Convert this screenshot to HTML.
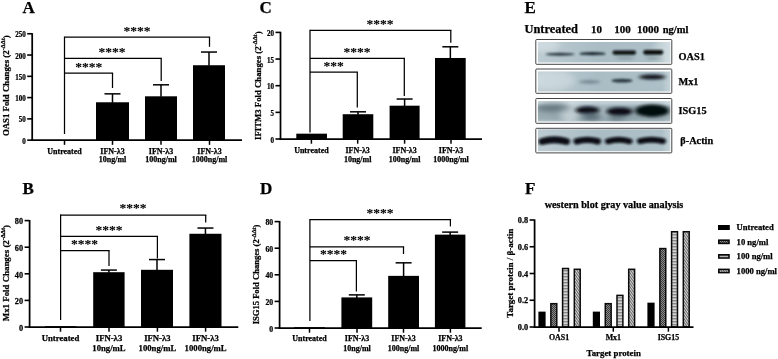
<!DOCTYPE html>
<html><head><meta charset="utf-8"><title>Figure</title>
<style>html,body{margin:0;padding:0;background:#fff;overflow:hidden}body{position:relative;width:778px;height:359px}svg{display:block}</style></head><body>
<svg width="778" height="359" viewBox="0 0 778 359" font-family="Liberation Serif, serif" font-weight="bold" fill="#000" stroke="#000" stroke-width="0" style="filter:grayscale(1)">
<rect width="778" height="359" fill="#fff"/>
<defs>
<pattern id="p10" width="2" height="2" patternUnits="userSpaceOnUse"><rect width="2" height="2" fill="#8a8a8a"/><rect width="1" height="1" fill="#3a3a3a"/><rect x="1" y="1" width="1" height="1" fill="#3a3a3a"/></pattern>
<pattern id="p100" width="8" height="3" patternUnits="userSpaceOnUse"><rect width="8" height="3" fill="#d4d4d4"/><rect width="8" height="1.4" fill="#8a8a8a"/></pattern>
<pattern id="p1000" width="2" height="2" patternUnits="userSpaceOnUse" patternTransform="rotate(55)"><rect width="2" height="2" fill="#d8d8d8"/><rect width="2" height="0.9" fill="#5a5a5a"/></pattern>
</defs>
<rect x="96.00" y="102.27" width="33.00" height="37.88" fill="#000" />
<line x1="112.5" y1="102.7716" x2="112.5" y2="93.84472000000001" stroke="#000" stroke-width="1.5" />
<line x1="104.5" y1="93.84472000000001" x2="120.5" y2="93.84472000000001" stroke="#000" stroke-width="1.5" />
<rect x="145.00" y="96.31" width="32.00" height="43.84" fill="#000" />
<line x1="161.0" y1="96.8132" x2="161.0" y2="84.82199999999999" stroke="#000" stroke-width="1.5" />
<line x1="153.0" y1="84.82199999999999" x2="169.0" y2="84.82199999999999" stroke="#000" stroke-width="1.5" />
<rect x="193.00" y="65.24" width="32.00" height="74.91" fill="#000" />
<line x1="209.0" y1="65.7444" x2="209.0" y2="52.050799999999995" stroke="#000" stroke-width="1.5" />
<line x1="201.0" y1="52.050799999999995" x2="217.0" y2="52.050799999999995" stroke="#000" stroke-width="1.5" />
<line x1="32.2" y1="33.15" x2="32.2" y2="141.025" stroke="#000" stroke-width="1.75" />
<line x1="31.325000000000003" y1="140.15" x2="242" y2="140.15" stroke="#000" stroke-width="1.75" />
<line x1="27.200000000000003" y1="140.15" x2="32.2" y2="140.15" stroke="#000" stroke-width="1.6" />
<text transform="translate(25.700000000000003,143.72) scale(0.88,1)" font-size="8" text-anchor="end" stroke-width="0.25">0</text>
<line x1="27.200000000000003" y1="118.87" x2="32.2" y2="118.87" stroke="#000" stroke-width="1.6" />
<text transform="translate(25.700000000000003,122.44) scale(0.88,1)" font-size="8" text-anchor="end" stroke-width="0.25">50</text>
<line x1="27.200000000000003" y1="97.59" x2="32.2" y2="97.59" stroke="#000" stroke-width="1.6" />
<text transform="translate(25.700000000000003,101.16) scale(0.88,1)" font-size="8" text-anchor="end" stroke-width="0.25">100</text>
<line x1="27.200000000000003" y1="76.31" x2="32.2" y2="76.31" stroke="#000" stroke-width="1.6" />
<text transform="translate(25.700000000000003,79.88) scale(0.88,1)" font-size="8" text-anchor="end" stroke-width="0.25">150</text>
<line x1="27.200000000000003" y1="55.03" x2="32.2" y2="55.03" stroke="#000" stroke-width="1.6" />
<text transform="translate(25.700000000000003,58.60) scale(0.88,1)" font-size="8" text-anchor="end" stroke-width="0.25">200</text>
<line x1="27.200000000000003" y1="33.75" x2="32.2" y2="33.75" stroke="#000" stroke-width="1.6" />
<text transform="translate(25.700000000000003,37.32) scale(0.88,1)" font-size="8" text-anchor="end" stroke-width="0.25">250</text>
<line x1="64.5" y1="140.15" x2="64.5" y2="144.85" stroke="#000" stroke-width="1.5" />
<text x="64.5" y="153.7" font-size="8" text-anchor="middle" stroke-width="0.25" >Untreated</text>
<line x1="112.5" y1="140.15" x2="112.5" y2="144.85" stroke="#000" stroke-width="1.5" />
<text x="112.5" y="153.7" font-size="8" text-anchor="middle" stroke-width="0.25" >IFN-λ3</text>
<text x="112.5" y="162.3" font-size="8" text-anchor="middle" stroke-width="0.25" >10ng/ml</text>
<line x1="161" y1="140.15" x2="161" y2="144.85" stroke="#000" stroke-width="1.5" />
<text x="161" y="153.7" font-size="8" text-anchor="middle" stroke-width="0.25" >IFN-λ3</text>
<text x="161" y="162.3" font-size="8" text-anchor="middle" stroke-width="0.25" >100ng/ml</text>
<line x1="209.5" y1="140.15" x2="209.5" y2="144.85" stroke="#000" stroke-width="1.5" />
<text x="209.5" y="153.7" font-size="8" text-anchor="middle" stroke-width="0.25" >IFN-λ3</text>
<text x="209.5" y="162.3" font-size="8" text-anchor="middle" stroke-width="0.25" >1000ng/ml</text>
<line x1="64.5" y1="36.575" x2="64.5" y2="134" stroke="#000" stroke-width="1.25" />
<line x1="64.5" y1="37.2" x2="210.125" y2="37.2" stroke="#000" stroke-width="1.25" />
<line x1="209.5" y1="37.2" x2="209.5" y2="46.8" stroke="#000" stroke-width="1.25" />
<text x="137" y="35.1" font-size="13.5" text-anchor="middle" stroke-width="0.08" >****</text>
<line x1="64.5" y1="58.4" x2="161.825" y2="58.4" stroke="#000" stroke-width="1.25" />
<line x1="161.2" y1="58.4" x2="161.2" y2="81" stroke="#000" stroke-width="1.25" />
<text x="112" y="56.3" font-size="13.5" text-anchor="middle" stroke-width="0.08" >****</text>
<line x1="64.5" y1="73" x2="113.125" y2="73" stroke="#000" stroke-width="1.25" />
<line x1="112.5" y1="73" x2="112.5" y2="88" stroke="#000" stroke-width="1.25" />
<text x="88.7" y="70.9" font-size="13.5" text-anchor="middle" stroke-width="0.08" >****</text>
<text transform="translate(9.0,85.7) rotate(-90)" font-size="8.8" text-anchor="middle" stroke-width="0.25">OAS1 Fold Changes (2<tspan font-size="6.3" dy="-3.7">-ΔΔt</tspan><tspan dy="3.7">)</tspan></text>
<text x="22.5" y="13.3" font-size="17" text-anchor="start" stroke-width="0.25" >A</text>
<rect x="296.30" y="133.67" width="30.70" height="5.33" fill="#000" />
<rect x="342.70" y="114.22" width="30.60" height="24.78" fill="#000" />
<line x1="358.0" y1="114.71549999999999" x2="358.0" y2="111.817" stroke="#000" stroke-width="1.5" />
<line x1="350.0" y1="111.817" x2="366.0" y2="111.817" stroke="#000" stroke-width="1.5" />
<rect x="389.60" y="105.69" width="30.00" height="33.31" fill="#000" />
<line x1="404.6" y1="106.1875" x2="404.6" y2="99.025" stroke="#000" stroke-width="1.5" />
<line x1="396.6" y1="99.025" x2="412.6" y2="99.025" stroke="#000" stroke-width="1.5" />
<rect x="435.00" y="57.98" width="30.70" height="81.02" fill="#000" />
<line x1="450.35" y1="58.48400000000001" x2="450.35" y2="46.79100000000001" stroke="#000" stroke-width="1.5" />
<line x1="442.35" y1="46.79100000000001" x2="458.35" y2="46.79100000000001" stroke="#000" stroke-width="1.5" />
<line x1="280.5" y1="31.799999999999997" x2="280.5" y2="139.875" stroke="#000" stroke-width="1.75" />
<line x1="279.625" y1="139" x2="482" y2="139" stroke="#000" stroke-width="1.75" />
<line x1="275.5" y1="139.0" x2="280.5" y2="139.0" stroke="#000" stroke-width="1.6" />
<text transform="translate(274.0,142.57) scale(0.88,1)" font-size="8" text-anchor="end" stroke-width="0.25">0</text>
<line x1="275.5" y1="112.35" x2="280.5" y2="112.35" stroke="#000" stroke-width="1.6" />
<text transform="translate(274.0,115.92) scale(0.88,1)" font-size="8" text-anchor="end" stroke-width="0.25">5</text>
<line x1="275.5" y1="85.7" x2="280.5" y2="85.7" stroke="#000" stroke-width="1.6" />
<text transform="translate(274.0,89.27) scale(0.88,1)" font-size="8" text-anchor="end" stroke-width="0.25">10</text>
<line x1="275.5" y1="59.05" x2="280.5" y2="59.05" stroke="#000" stroke-width="1.6" />
<text transform="translate(274.0,62.62) scale(0.88,1)" font-size="8" text-anchor="end" stroke-width="0.25">15</text>
<line x1="275.5" y1="32.400000000000006" x2="280.5" y2="32.400000000000006" stroke="#000" stroke-width="1.6" />
<text transform="translate(274.0,35.97) scale(0.88,1)" font-size="8" text-anchor="end" stroke-width="0.25">20</text>
<line x1="311.4" y1="139" x2="311.4" y2="143.7" stroke="#000" stroke-width="1.5" />
<text x="311.4" y="152.6" font-size="8" text-anchor="middle" stroke-width="0.25" >Untreated</text>
<line x1="357.7" y1="139" x2="357.7" y2="143.7" stroke="#000" stroke-width="1.5" />
<text x="357.7" y="152.6" font-size="8" text-anchor="middle" stroke-width="0.25" >IFN-λ3</text>
<text x="357.7" y="161.5" font-size="8" text-anchor="middle" stroke-width="0.25" >10ng/ml</text>
<line x1="404.6" y1="139" x2="404.6" y2="143.7" stroke="#000" stroke-width="1.5" />
<text x="404.6" y="152.6" font-size="8" text-anchor="middle" stroke-width="0.25" >IFN-λ3</text>
<text x="404.6" y="161.5" font-size="8" text-anchor="middle" stroke-width="0.25" >100ng/ml</text>
<line x1="451" y1="139" x2="451" y2="143.7" stroke="#000" stroke-width="1.5" />
<text x="451" y="152.6" font-size="8" text-anchor="middle" stroke-width="0.25" >IFN-λ3</text>
<text x="451" y="161.5" font-size="8" text-anchor="middle" stroke-width="0.25" >1000ng/ml</text>
<line x1="310" y1="29.775" x2="310" y2="132.6" stroke="#000" stroke-width="1.25" />
<line x1="310" y1="30.4" x2="451.425" y2="30.4" stroke="#000" stroke-width="1.25" />
<line x1="450.8" y1="30.4" x2="450.8" y2="42.8" stroke="#000" stroke-width="1.25" />
<text x="380" y="28.299999999999997" font-size="13.5" text-anchor="middle" stroke-width="0.08" >****</text>
<line x1="310" y1="58.3" x2="404.925" y2="58.3" stroke="#000" stroke-width="1.25" />
<line x1="404.3" y1="58.3" x2="404.3" y2="96" stroke="#000" stroke-width="1.25" />
<text x="357" y="56.199999999999996" font-size="13.5" text-anchor="middle" stroke-width="0.08" >****</text>
<line x1="310" y1="72.2" x2="357.925" y2="72.2" stroke="#000" stroke-width="1.25" />
<line x1="357.3" y1="72.2" x2="357.3" y2="107.4" stroke="#000" stroke-width="1.25" />
<text x="333.5" y="70.10000000000001" font-size="13.5" text-anchor="middle" stroke-width="0.08" >***</text>
<text transform="translate(260.9,85.7) rotate(-90)" font-size="8.76" text-anchor="middle" stroke-width="0.25">IFITM3 Fold Changes (2<tspan font-size="6.3" dy="-3.7">-ΔΔt</tspan><tspan dy="3.7">)</tspan></text>
<text x="259.5" y="13.3" font-size="17" text-anchor="start" stroke-width="0.25" >C</text>
<rect x="45.00" y="326.20" width="31.50" height="0.80" fill="#000" />
<rect x="93.20" y="272.20" width="31.40" height="54.80" fill="#000" />
<line x1="108.9" y1="272.704" x2="108.9" y2="270.076" stroke="#000" stroke-width="1.5" />
<line x1="100.9" y1="270.076" x2="116.9" y2="270.076" stroke="#000" stroke-width="1.5" />
<rect x="141.00" y="269.81" width="32.00" height="57.19" fill="#000" />
<line x1="157.0" y1="270.31" x2="157.0" y2="259.569" stroke="#000" stroke-width="1.5" />
<line x1="149.0" y1="259.569" x2="165.0" y2="259.569" stroke="#000" stroke-width="1.5" />
<rect x="189.40" y="233.77" width="32.10" height="93.23" fill="#000" />
<line x1="205.45" y1="234.267" x2="205.45" y2="228.048" stroke="#000" stroke-width="1.5" />
<line x1="197.45" y1="228.048" x2="213.45" y2="228.048" stroke="#000" stroke-width="1.5" />
<line x1="29.6" y1="220.0" x2="29.6" y2="327.875" stroke="#000" stroke-width="1.75" />
<line x1="28.725" y1="327" x2="238.3" y2="327" stroke="#000" stroke-width="1.75" />
<line x1="24.6" y1="327.0" x2="29.6" y2="327.0" stroke="#000" stroke-width="1.6" />
<text transform="translate(23.1,330.81) scale(0.95,1)" font-size="8.7" text-anchor="end" stroke-width="0.25">0</text>
<line x1="24.6" y1="300.4" x2="29.6" y2="300.4" stroke="#000" stroke-width="1.6" />
<text transform="translate(23.1,304.21) scale(0.95,1)" font-size="8.7" text-anchor="end" stroke-width="0.25">20</text>
<line x1="24.6" y1="273.8" x2="29.6" y2="273.8" stroke="#000" stroke-width="1.6" />
<text transform="translate(23.1,277.61) scale(0.95,1)" font-size="8.7" text-anchor="end" stroke-width="0.25">40</text>
<line x1="24.6" y1="247.2" x2="29.6" y2="247.2" stroke="#000" stroke-width="1.6" />
<text transform="translate(23.1,251.01) scale(0.95,1)" font-size="8.7" text-anchor="end" stroke-width="0.25">60</text>
<line x1="24.6" y1="220.6" x2="29.6" y2="220.6" stroke="#000" stroke-width="1.6" />
<text transform="translate(23.1,224.41) scale(0.95,1)" font-size="8.7" text-anchor="end" stroke-width="0.25">80</text>
<line x1="60.5" y1="327" x2="60.5" y2="331.7" stroke="#000" stroke-width="1.5" />
<text x="60.5" y="341" font-size="8.7" text-anchor="middle" stroke-width="0.25" >Untreated</text>
<line x1="109" y1="327" x2="109" y2="331.7" stroke="#000" stroke-width="1.5" />
<text x="109" y="341" font-size="8.7" text-anchor="middle" stroke-width="0.25" >IFN-λ3</text>
<text x="109" y="351.4" font-size="8.7" text-anchor="middle" stroke-width="0.25" >10ng/mL</text>
<line x1="157.4" y1="327" x2="157.4" y2="331.7" stroke="#000" stroke-width="1.5" />
<text x="157.4" y="341" font-size="8.7" text-anchor="middle" stroke-width="0.25" >IFN-λ3</text>
<text x="157.4" y="351.4" font-size="8.7" text-anchor="middle" stroke-width="0.25" >100ng/mL</text>
<line x1="205.6" y1="327" x2="205.6" y2="331.7" stroke="#000" stroke-width="1.5" />
<text x="205.6" y="341" font-size="8.7" text-anchor="middle" stroke-width="0.25" >IFN-λ3</text>
<text x="205.6" y="351.4" font-size="8.7" text-anchor="middle" stroke-width="0.25" >1000ng/mL</text>
<line x1="60.6" y1="214.375" x2="60.6" y2="320" stroke="#000" stroke-width="1.25" />
<line x1="60.6" y1="215.0" x2="206.325" y2="215.0" stroke="#000" stroke-width="1.25" />
<line x1="205.7" y1="215.0" x2="205.7" y2="222.6" stroke="#000" stroke-width="1.25" />
<text x="133" y="212.4" font-size="13.5" text-anchor="middle" stroke-width="0.08" >****</text>
<line x1="60.6" y1="236.4" x2="158.025" y2="236.4" stroke="#000" stroke-width="1.25" />
<line x1="157.4" y1="236.4" x2="157.4" y2="258.5" stroke="#000" stroke-width="1.25" />
<text x="109" y="233.8" font-size="13.5" text-anchor="middle" stroke-width="0.08" >****</text>
<line x1="60.6" y1="250.7" x2="109.625" y2="250.7" stroke="#000" stroke-width="1.25" />
<line x1="109" y1="250.7" x2="109" y2="266" stroke="#000" stroke-width="1.25" />
<text x="84.5" y="248.1" font-size="13.5" text-anchor="middle" stroke-width="0.08" >****</text>
<text transform="translate(9.1,273.1) rotate(-90)" font-size="8.87" text-anchor="middle" stroke-width="0.25">Mx1 Fold Changes (2<tspan font-size="6.4" dy="-3.7">-ΔΔt</tspan><tspan dy="3.7">)</tspan></text>
<text x="22.5" y="193.5" font-size="17" text-anchor="start" stroke-width="0.25" >B</text>
<rect x="294.00" y="327.20" width="31.00" height="0.80" fill="#000" />
<rect x="341.40" y="297.41" width="30.80" height="30.59" fill="#000" />
<line x1="356.79999999999995" y1="297.90999999999997" x2="356.79999999999995" y2="294.883" stroke="#000" stroke-width="1.5" />
<line x1="348.79999999999995" y1="294.883" x2="364.79999999999995" y2="294.883" stroke="#000" stroke-width="1.5" />
<rect x="388.20" y="275.86" width="30.80" height="52.14" fill="#000" />
<line x1="403.6" y1="276.364" x2="403.6" y2="262.83" stroke="#000" stroke-width="1.5" />
<line x1="395.6" y1="262.83" x2="411.6" y2="262.83" stroke="#000" stroke-width="1.5" />
<rect x="434.90" y="234.63" width="30.50" height="93.37" fill="#000" />
<line x1="450.15" y1="235.134" x2="450.15" y2="232.107" stroke="#000" stroke-width="1.5" />
<line x1="442.15" y1="232.107" x2="458.15" y2="232.107" stroke="#000" stroke-width="1.5" />
<line x1="279.6" y1="221.0" x2="279.6" y2="328.875" stroke="#000" stroke-width="1.75" />
<line x1="278.725" y1="328" x2="481.7" y2="328" stroke="#000" stroke-width="1.75" />
<line x1="274.6" y1="328.0" x2="279.6" y2="328.0" stroke="#000" stroke-width="1.6" />
<text transform="translate(273.1,331.67) scale(0.93,1)" font-size="8.3" text-anchor="end" stroke-width="0.25">0</text>
<line x1="274.6" y1="301.4" x2="279.6" y2="301.4" stroke="#000" stroke-width="1.6" />
<text transform="translate(273.1,305.07) scale(0.93,1)" font-size="8.3" text-anchor="end" stroke-width="0.25">20</text>
<line x1="274.6" y1="274.8" x2="279.6" y2="274.8" stroke="#000" stroke-width="1.6" />
<text transform="translate(273.1,278.47) scale(0.93,1)" font-size="8.3" text-anchor="end" stroke-width="0.25">40</text>
<line x1="274.6" y1="248.2" x2="279.6" y2="248.2" stroke="#000" stroke-width="1.6" />
<text transform="translate(273.1,251.87) scale(0.93,1)" font-size="8.3" text-anchor="end" stroke-width="0.25">60</text>
<line x1="274.6" y1="221.6" x2="279.6" y2="221.6" stroke="#000" stroke-width="1.6" />
<text transform="translate(273.1,225.27) scale(0.93,1)" font-size="8.3" text-anchor="end" stroke-width="0.25">80</text>
<line x1="309.5" y1="328" x2="309.5" y2="332.7" stroke="#000" stroke-width="1.5" />
<text x="309.5" y="340.7" font-size="8" text-anchor="middle" stroke-width="0.25" >Untreated</text>
<line x1="357" y1="328" x2="357" y2="332.7" stroke="#000" stroke-width="1.5" />
<text x="357" y="340.7" font-size="8" text-anchor="middle" stroke-width="0.25" >IFN-λ3</text>
<text x="357" y="350.8" font-size="8" text-anchor="middle" stroke-width="0.25" >10ng/ml</text>
<line x1="403.5" y1="328" x2="403.5" y2="332.7" stroke="#000" stroke-width="1.5" />
<text x="403.5" y="340.7" font-size="8" text-anchor="middle" stroke-width="0.25" >IFN-λ3</text>
<text x="403.5" y="350.8" font-size="8" text-anchor="middle" stroke-width="0.25" >100ng/ml</text>
<line x1="450.4" y1="328" x2="450.4" y2="332.7" stroke="#000" stroke-width="1.5" />
<text x="450.4" y="340.7" font-size="8" text-anchor="middle" stroke-width="0.25" >IFN-λ3</text>
<text x="450.4" y="350.8" font-size="8" text-anchor="middle" stroke-width="0.25" >1000ng/ml</text>
<line x1="309.9" y1="218.975" x2="309.9" y2="321" stroke="#000" stroke-width="1.25" />
<line x1="309.9" y1="219.6" x2="451.025" y2="219.6" stroke="#000" stroke-width="1.25" />
<line x1="450.4" y1="219.6" x2="450.4" y2="226.4" stroke="#000" stroke-width="1.25" />
<text x="380" y="217.0" font-size="13.5" text-anchor="middle" stroke-width="0.08" >****</text>
<line x1="309.9" y1="246.9" x2="404.125" y2="246.9" stroke="#000" stroke-width="1.25" />
<line x1="403.5" y1="246.9" x2="403.5" y2="254" stroke="#000" stroke-width="1.25" />
<text x="357" y="244.3" font-size="13.5" text-anchor="middle" stroke-width="0.08" >****</text>
<line x1="309.9" y1="260.7" x2="357.025" y2="260.7" stroke="#000" stroke-width="1.25" />
<line x1="356.4" y1="260.7" x2="356.4" y2="291.5" stroke="#000" stroke-width="1.25" />
<text x="333.4" y="258.09999999999997" font-size="13.5" text-anchor="middle" stroke-width="0.08" >****</text>
<text transform="translate(259.2,274.45) rotate(-90)" font-size="8.58" text-anchor="middle" stroke-width="0.25">ISG15 Fold Changes (2<tspan font-size="6.2" dy="-3.6">-ΔΔt</tspan><tspan dy="3.6">)</tspan></text>
<text x="260" y="193.5" font-size="17" text-anchor="start" stroke-width="0.25" >D</text>
<text x="524.5" y="13.3" font-size="17" text-anchor="start" stroke-width="0.25" >E</text>
<text x="524.5" y="33" font-size="12.4" text-anchor="start" stroke-width="0.25" >Untreated</text>
<text x="596.5" y="33" font-size="11" text-anchor="middle" stroke-width="0.25" >10</text>
<text x="622.5" y="33" font-size="11" text-anchor="middle" stroke-width="0.25" >100</text>
<text x="648" y="33" font-size="11" text-anchor="middle" stroke-width="0.25" >1000</text>
<text x="675.5" y="33" font-size="10.5" text-anchor="middle" stroke-width="0.25" >ng/ml</text>
<text x="678.5" y="59.5" font-size="10.3" text-anchor="start" stroke-width="0.25" >OAS1</text>
<text x="678.5" y="84.5" font-size="10.3" text-anchor="start" stroke-width="0.25" >Mx1</text>
<text x="678.5" y="114" font-size="10.3" text-anchor="start" stroke-width="0.25" >ISG15</text>
<text x="680.3" y="143.7" font-size="10.3" text-anchor="start" stroke-width="0.25" >β-Actin</text>
<text x="525" y="193.5" font-size="17" text-anchor="start" stroke-width="0.25" >F</text>
<text x="614" y="207.5" font-size="10.2" text-anchor="middle" stroke-width="0.25" >western blot gray value analysis</text>
<rect x="538.40" y="311.62" width="7.20" height="15.38" fill="#000" />
<rect x="550.87" y="303.68" width="5.90" height="23.32" fill="url(#p10)" stroke="#0a0a0a" stroke-width="1.5"/>
<rect x="562.59" y="268.50" width="5.90" height="58.50" fill="url(#p100)" stroke="#0a0a0a" stroke-width="1.5"/>
<rect x="574.31" y="269.30" width="5.90" height="57.70" fill="url(#p1000)" stroke="#0a0a0a" stroke-width="1.5"/>
<rect x="592.80" y="311.62" width="7.20" height="15.38" fill="#000" />
<rect x="605.27" y="303.68" width="5.90" height="23.32" fill="url(#p10)" stroke="#0a0a0a" stroke-width="1.5"/>
<rect x="616.99" y="295.38" width="5.90" height="31.62" fill="url(#p100)" stroke="#0a0a0a" stroke-width="1.5"/>
<rect x="628.71" y="269.30" width="5.90" height="57.70" fill="url(#p1000)" stroke="#0a0a0a" stroke-width="1.5"/>
<rect x="647.40" y="302.66" width="7.20" height="24.34" fill="#000" />
<rect x="659.87" y="248.57" width="5.90" height="78.43" fill="url(#p10)" stroke="#0a0a0a" stroke-width="1.5"/>
<rect x="671.59" y="231.72" width="5.90" height="95.28" fill="url(#p100)" stroke="#0a0a0a" stroke-width="1.5"/>
<rect x="683.31" y="231.72" width="5.90" height="95.28" fill="url(#p1000)" stroke="#0a0a0a" stroke-width="1.5"/>
<line x1="534.6" y1="219.4" x2="534.6" y2="327.85" stroke="#000" stroke-width="1.75" />
<line x1="533.75" y1="327" x2="693.5" y2="327" stroke="#000" stroke-width="1.75" />
<line x1="529.6" y1="327.0" x2="534.6" y2="327.0" stroke="#000" stroke-width="1.6" />
<text x="528.2" y="330.2" font-size="8.3" text-anchor="end" stroke-width="0.25" >0.0</text>
<line x1="529.6" y1="300.25" x2="534.6" y2="300.25" stroke="#000" stroke-width="1.6" />
<text x="528.2" y="303.45" font-size="8.3" text-anchor="end" stroke-width="0.25" >0.2</text>
<line x1="529.6" y1="273.5" x2="534.6" y2="273.5" stroke="#000" stroke-width="1.6" />
<text x="528.2" y="276.7" font-size="8.3" text-anchor="end" stroke-width="0.25" >0.4</text>
<line x1="529.6" y1="246.75" x2="534.6" y2="246.75" stroke="#000" stroke-width="1.6" />
<text x="528.2" y="249.95" font-size="8.3" text-anchor="end" stroke-width="0.25" >0.6</text>
<line x1="529.6" y1="220.0" x2="534.6" y2="220.0" stroke="#000" stroke-width="1.6" />
<text x="528.2" y="223.2" font-size="8.3" text-anchor="end" stroke-width="0.25" >0.8</text>
<line x1="559" y1="327" x2="559" y2="331.7" stroke="#000" stroke-width="1.5" />
<text x="559" y="339.8" font-size="7.9" text-anchor="middle" stroke-width="0.25" >OAS1</text>
<line x1="613.3" y1="327" x2="613.3" y2="331.7" stroke="#000" stroke-width="1.5" />
<text x="613.3" y="339.8" font-size="7.9" text-anchor="middle" stroke-width="0.25" >Mx1</text>
<line x1="668.4" y1="327" x2="668.4" y2="331.7" stroke="#000" stroke-width="1.5" />
<text x="668.4" y="339.8" font-size="7.9" text-anchor="middle" stroke-width="0.25" >ISG15</text>
<text x="613.7" y="356" font-size="8.85" text-anchor="middle" stroke-width="0.25" >Target protein</text>
<text transform="translate(513,273.3) rotate(-90)" font-size="9.0" text-anchor="middle" stroke-width="0.25">Target protein / β-actin</text>
<rect x="718.00" y="225.00" width="11.80" height="5.00" fill="#000" />
<text x="736.6" y="230.20000000000002" font-size="8.6" text-anchor="start" stroke-width="0.25" >Untreated</text>
<rect x="718.80" y="240.20" width="10.20" height="3.20" fill="url(#p10)" stroke="#0a0a0a" stroke-width="1.6"/>
<text x="736.6" y="244.5" font-size="8.6" text-anchor="start" stroke-width="0.25" >10 ng/ml</text>
<rect x="718.80" y="254.80" width="10.20" height="3.20" fill="url(#p100)" stroke="#0a0a0a" stroke-width="1.6"/>
<text x="736.6" y="259.09999999999997" font-size="8.6" text-anchor="start" stroke-width="0.25" >100 ng/ml</text>
<rect x="718.80" y="269.40" width="10.20" height="3.20" fill="url(#p1000)" stroke="#0a0a0a" stroke-width="1.6"/>
<text x="736.6" y="273.7" font-size="8.6" text-anchor="start" stroke-width="0.25" >1000 ng/ml</text>
</svg>
<svg width="778" height="359" viewBox="0 0 778 359" style="position:absolute;left:0;top:0">
<defs>
<filter id="b1" filterUnits="userSpaceOnUse" x="520" y="30" width="170" height="135"><feGaussianBlur stdDeviation="1.2 0.9"/></filter>
<filter id="b1e" filterUnits="userSpaceOnUse" x="520" y="30" width="170" height="135"><feGaussianBlur stdDeviation="1.2 0.9"/></filter>
<filter id="b15" filterUnits="userSpaceOnUse" x="520" y="30" width="170" height="135"><feGaussianBlur stdDeviation="1.6 1.1"/></filter>
<filter id="b2" filterUnits="userSpaceOnUse" x="520" y="30" width="170" height="135"><feGaussianBlur stdDeviation="2 1.4"/></filter>
<filter id="b3" filterUnits="userSpaceOnUse" x="520" y="30" width="170" height="135"><feGaussianBlur stdDeviation="3.5 2.5"/></filter>
<linearGradient id="bg" x1="0" x2="1" y1="0" y2="0"><stop offset="0" stop-color="#bdccd2"/><stop offset="0.45" stop-color="#aabdc5"/><stop offset="0.93" stop-color="#adc0c7"/><stop offset="1" stop-color="#c6d4d9"/></linearGradient>
</defs>
<rect x="535.80" y="39.50" width="136.00" height="24.80" fill="#fff" stroke="#444" stroke-width="1" rx="0.8"/>
<g><clipPath id="c39"><rect x="537.9" y="41.900000000000006" width="132.4" height="20.700000000000003"/></clipPath>
<g clip-path="url(#c39)">
<rect x="537.50" y="40.20" width="133.30" height="23.10" fill="url(#bg)" />
<ellipse cx="667.5" cy="50" rx="12.5" ry="15.0" fill="#dfe8eb" opacity="0.5" filter="url(#b3)"/>
<ellipse cx="545.0" cy="45" rx="15.0" ry="7.0" fill="#dfe8eb" opacity="0.5" filter="url(#b3)"/>
<ellipse cx="560.0" cy="54.3" rx="14.5" ry="1.5" fill="#1d2b33" opacity="0.9" filter="url(#b1e)"/>
<ellipse cx="592.5" cy="53.7" rx="13.0" ry="1.65" fill="#1d2b33" opacity="1" filter="url(#b1e)"/>
<path d="M614.6,52.6 Q624.2,52.6 633.9,52.6" fill="none" stroke="#070c10" stroke-width="4.3" stroke-linecap="round" opacity="1" filter="url(#b1)"/>
<path d="M645.6,52.3 Q653.3,52.3 660.9,52.3" fill="none" stroke="#070c10" stroke-width="4.7" stroke-linecap="round" opacity="1" filter="url(#b1)"/>
<ellipse cx="625.0" cy="58" rx="9.0" ry="1.25" fill="#4a5d66" opacity="0.4" filter="url(#b2)"/>
<ellipse cx="654.0" cy="58" rx="8.0" ry="1.25" fill="#4a5d66" opacity="0.4" filter="url(#b2)"/>
</g></g>
<rect x="535.80" y="69.00" width="136.00" height="24.30" fill="#fff" stroke="#444" stroke-width="1" rx="0.8"/>
<g><clipPath id="c68"><rect x="537.9" y="71.4" width="132.4" height="20.200000000000003"/></clipPath>
<g clip-path="url(#c68)">
<rect x="537.50" y="69.70" width="133.30" height="22.60" fill="url(#bg)" />
<ellipse cx="552.5" cy="80" rx="22.5" ry="10.0" fill="#dfe8eb" opacity="0.45" filter="url(#b3)"/>
<ellipse cx="589.5" cy="81.8" rx="10.5" ry="1.6" fill="#3a4d56" opacity="0.55" filter="url(#b2)"/>
<ellipse cx="622.0" cy="80.7" rx="10.5" ry="1.9" fill="#1d2b33" opacity="0.9" filter="url(#b1e)"/>
<ellipse cx="652.2" cy="77" rx="13.2" ry="2.6" fill="#0a1115" opacity="1" filter="url(#b2)"/>
</g></g>
<rect x="535.80" y="98.50" width="136.00" height="24.80" fill="#fff" stroke="#444" stroke-width="1" rx="0.8"/>
<g><clipPath id="c98"><rect x="537.9" y="100.9" width="132.4" height="20.700000000000003"/></clipPath>
<g clip-path="url(#c98)">
<rect x="537.50" y="99.20" width="133.30" height="23.10" fill="url(#bg)" />
<rect x="520" y="105.5" width="170" height="15.0" fill="#4f636c" opacity="0.3" filter="url(#b2)"/>
<rect x="520" y="98.2" width="170" height="6.299999999999997" fill="#e4ecef" opacity="0.45" filter="url(#b2)"/>
<ellipse cx="570.0" cy="112" rx="10.0" ry="11.0" fill="#dfe8eb" opacity="0.6" filter="url(#b3)"/>
<ellipse cx="604.0" cy="112" rx="7.0" ry="7.0" fill="#dfe8eb" opacity="0.35" filter="url(#b3)"/>
<ellipse cx="553.0" cy="107.5" rx="17.0" ry="4.5" fill="#3a4d56" opacity="0.5" filter="url(#b3)"/>
<ellipse cx="587.5" cy="110.2" rx="12.0" ry="3.6" fill="#0a1115" opacity="1" filter="url(#b2)"/>
<ellipse cx="591.5" cy="116.5" rx="9.5" ry="4.0" fill="#3a4d56" opacity="0.65" filter="url(#b3)"/>
<ellipse cx="619.5" cy="111.5" rx="13.0" ry="4.1" fill="#0a1115" opacity="1" filter="url(#b2)"/>
<ellipse cx="617.0" cy="118" rx="9.0" ry="3.0" fill="#3a4d56" opacity="0.5" filter="url(#b3)"/>
<ellipse cx="652.2" cy="110.7" rx="16.8" ry="6.25" fill="#05090c" opacity="1" filter="url(#b2)"/>
</g></g>
<rect x="535.80" y="128.30" width="136.00" height="24.60" fill="#fff" stroke="#444" stroke-width="1" rx="0.8"/>
<g><clipPath id="c128"><rect x="537.9" y="129.3" width="132.4" height="21.9"/></clipPath>
<g clip-path="url(#c128)">
<rect x="537.50" y="129.00" width="133.30" height="22.90" fill="url(#bg)" />
<path d="M541.9,141.6 Q554.2,137.9 566.6,141.6" fill="none" stroke="#080e12" stroke-width="6.8" stroke-linecap="round" opacity="1" filter="url(#b15)"/>
<path d="M576.7,141.4 Q587.2,138.3 597.8,141.4" fill="none" stroke="#080e12" stroke-width="6.4" stroke-linecap="round" opacity="1" filter="url(#b15)"/>
<path d="M608.0,141.3 Q618.8,138.4 629.5,141.3" fill="none" stroke="#080e12" stroke-width="6.0" stroke-linecap="round" opacity="1" filter="url(#b15)"/>
<path d="M640.0,141.1 Q651.5,138.2 663.0,141.1" fill="none" stroke="#080e12" stroke-width="6.0" stroke-linecap="round" opacity="1" filter="url(#b15)"/>
</g></g>
</svg></body></html>
